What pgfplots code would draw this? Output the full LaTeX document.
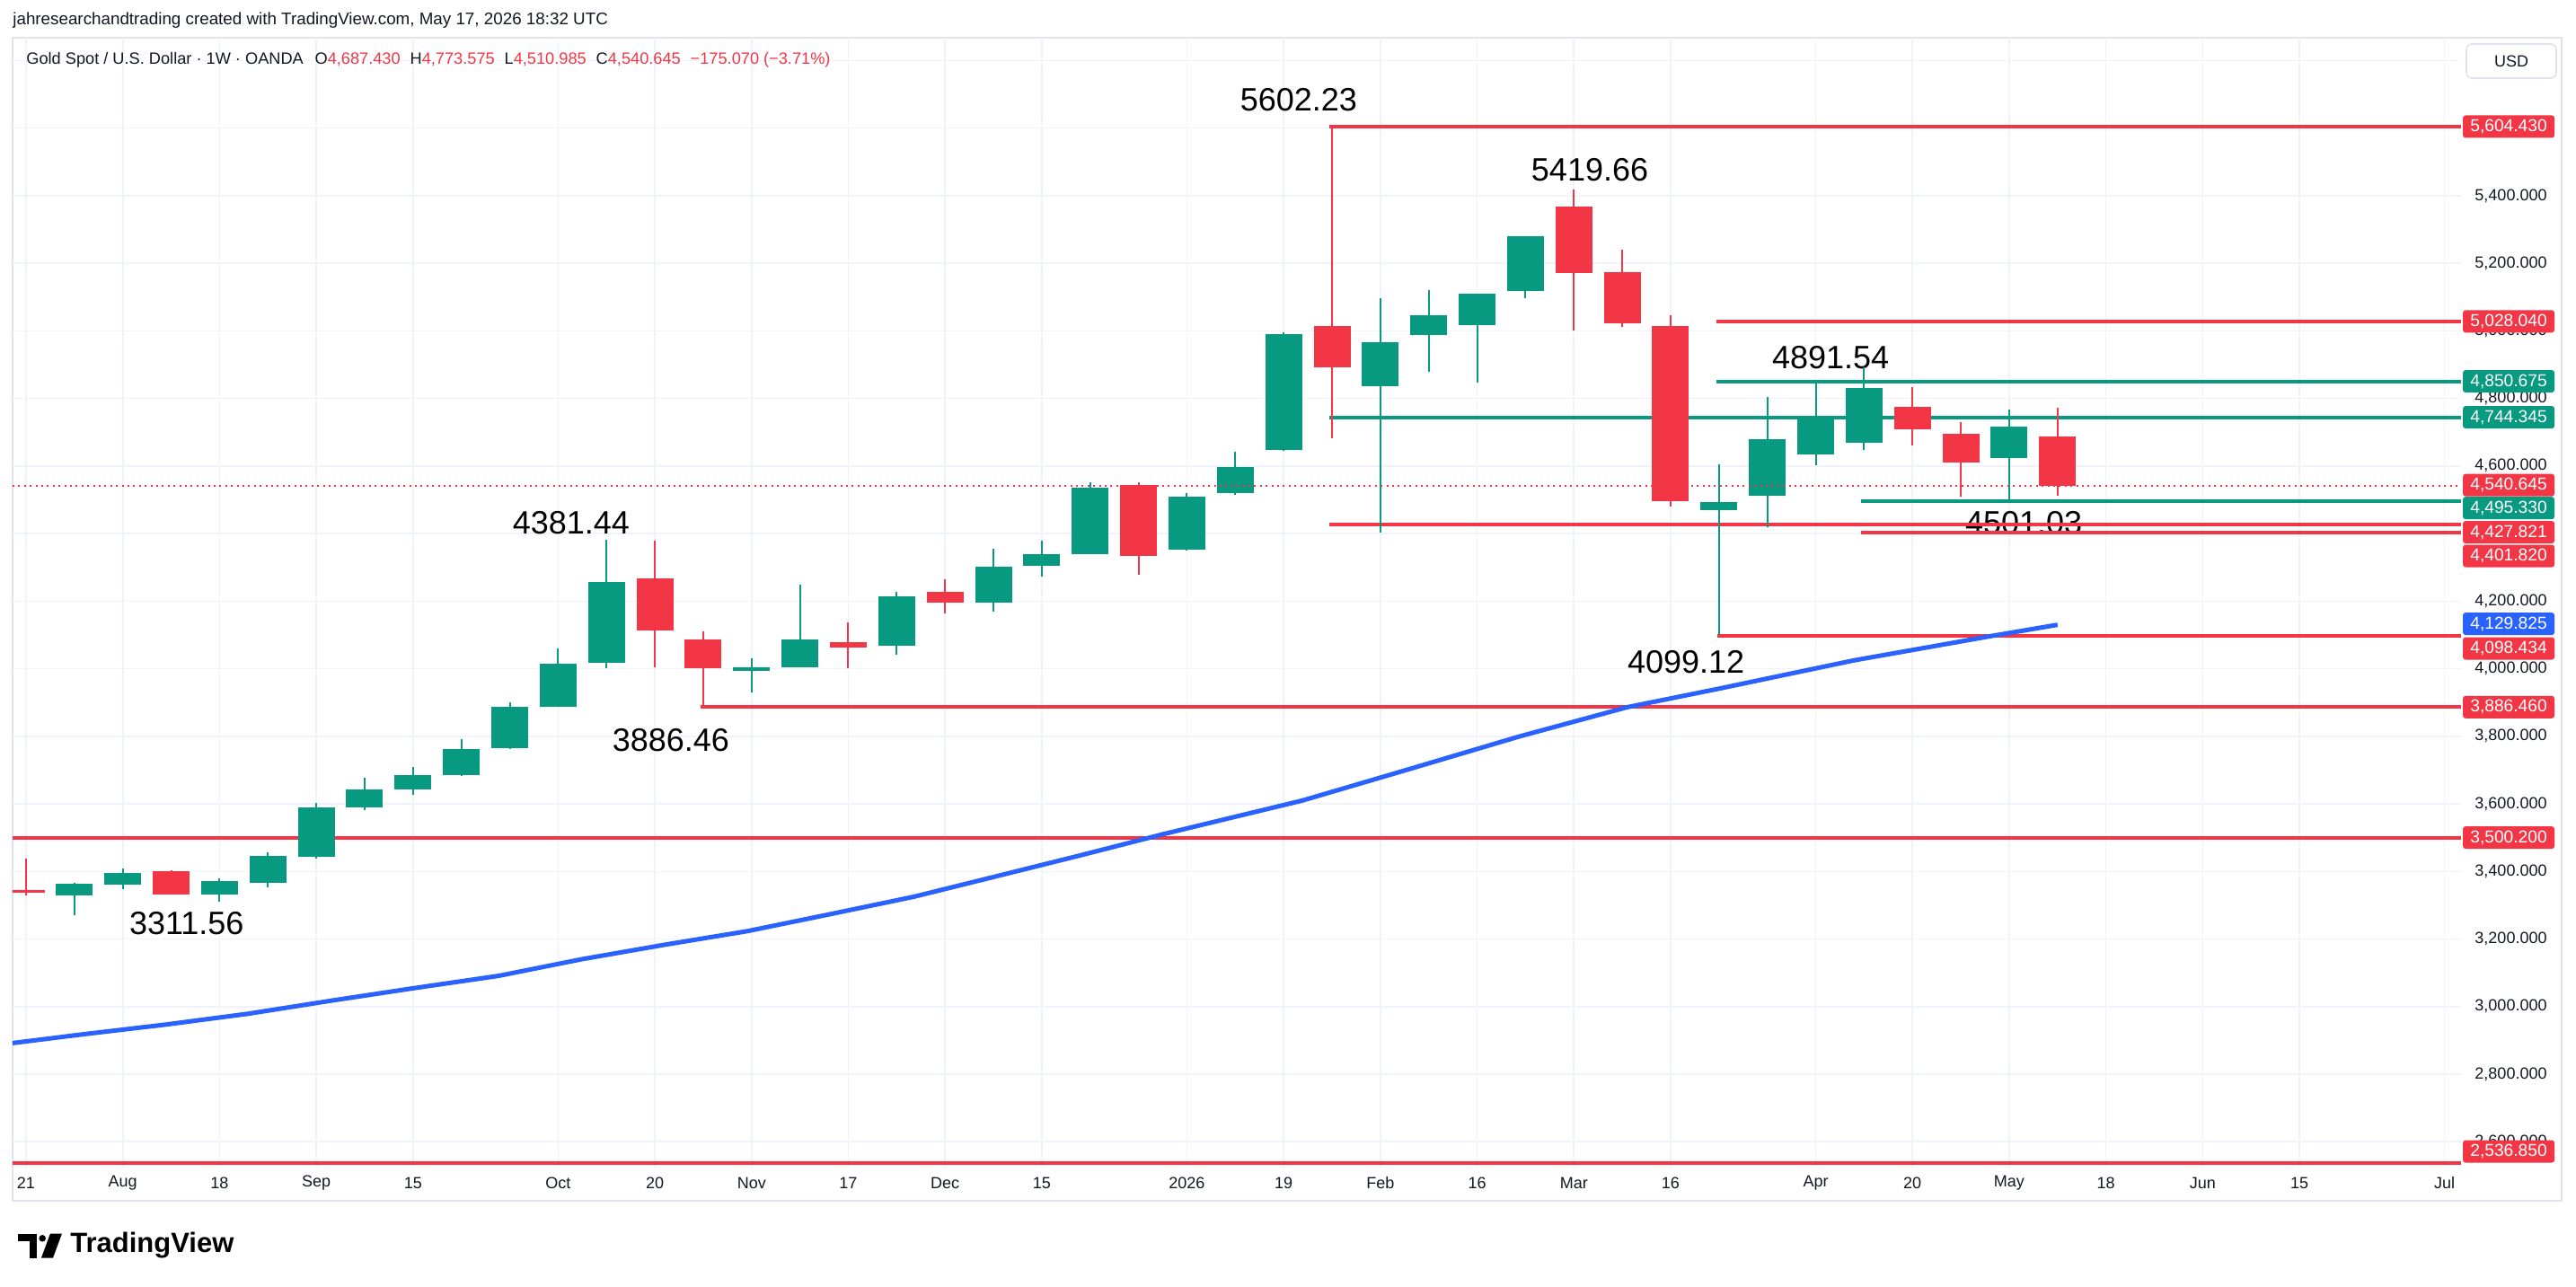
\documentclass[border=0pt]{standalone}
\usepackage{fontspec}
\setmainfont{Liberation Sans}
\usepackage{pgfplots}
\pgfplotsset{compat=1.18}
\usepackage{pgfplotstable}
\definecolor{tvgreen}{HTML}{089981}
\definecolor{tvred}{HTML}{F23645}
\definecolor{tvblue}{HTML}{2962FF}
\definecolor{tvgrid}{HTML}{F0F3FA}
\definecolor{tvtext}{HTML}{131722}
\definecolor{tvborder}{HTML}{E0E3EB}
\tikzset{
  annot/.style={font=\fontsize{18}{20}\selectfont, text=black, inner sep=0pt, anchor=center},
  pbox/.style={text=white, font=\fontsize{9.6}{10}\selectfont, minimum width=51pt, minimum height=12.5pt, inner sep=0pt, rounded corners=1.5pt},
}

\pgfplotstableread{
x o h l c
1 3329 3366 3270 3364
2 3361 3410 3348 3396
4 3333 3380 3311.56 3372
5 3365 3456 3354 3447
6 3443 3602 3439 3589
7 3589 3676 3581 3642
8 3643 3708 3627 3684
9 3684 3791 3682 3762
10 3764 3900 3762 3886
11 3888 4061 3886 4016
12 4017 4381.44 4001 4256
15 3993 4032 3930 4003
16 4005 4249 4003 4086
18 4067 4227 4041 4214
20 4196 4356 4170 4302
21 4305 4378 4274 4338
22 4340 4551 4338 4535
24 4352 4519 4350 4510
25 4520 4643 4515 4597
26 4647 4995 4645 4991
28 4836 5096 4402 4966
29 4988 5120 4879 5045
30 5016 5111 4846 5111
31 5117 5281 5096 5281
35 4470 4605 4099.12 4493
36 4511 4805 4419 4679
37 4635 4849 4602 4745
38 4669 4891.54 4647 4832
41 4624 4767 4501.03 4717
}\greencandles

\pgfplotstableread{
x o h l c
0 3346 3438 3328 3337
3 3401 3403 3331 3333
13 4268 4380 4003 4112
14 4086 4111 3886.46 4001
17 4078 4136 4001 4063
19 4227 4265 4165 4196
23 4544 4551 4278 4333
27 5015 5602.23 4681 4893
32 5368 5419.66 5001 5171
33 5173 5240 5011 5022
34 5015 5045 4480 4495
39 4776 4833 4661 4709
40 4696 4730 4510 4610
42 4687.43 4773.575 4510.985 4540.645
}\redcandles

\begin{document}
\begin{tikzpicture}
\useasboundingbox (0,0) rectangle (1434pt,716pt);
\fill[white] (0,0) rectangle (1434pt,716pt);
\draw[tvborder, line width=1pt] (7pt,47.5pt) rectangle (1426pt,695pt);
\begin{axis}[
  at={(7pt,66pt)}, anchor=south west,
  scale only axis, width=1363pt, height=629pt,
  xmin=-0.2786, xmax=50.343, ymin=2523.6, ymax=5867.6,
  clip mode=individual,
  axis line style={draw=none},
  major tick length=0pt,
  grid=major, major grid style={tvgrid, line width=0.8pt},
  xtick={0,2,4,6,8,11,13,15,17,19,21,24,26,28,30,32,34,37,39,41,43,45,47,50},
  xticklabels={21,Aug,18,Sep,15,Oct,20,Nov,17,Dec,15,2026,19,Feb,16,Mar,16,Apr,20,May,18,Jun,15,Jul},
  ytick={2600,2800,3000,3200,3400,3600,3800,4000,4200,4400,4600,4800,5000,5200,5400,5600,5800},
  yticklabels={{2,600.000},{2,800.000},{3,000.000},{3,200.000},{3,400.000},{3,600.000},{3,800.000},{4,000.000},{4,200.000},{},{4,600.000},{4,800.000},{5,000.000},{5,200.000},{5,400.000},{},{}},
  yticklabel pos=right,
  xticklabel style={font=\fontsize{9}{10}\selectfont, text=tvtext, anchor=center, inner sep=0pt, yshift=-8.5pt},
  yticklabel style={font=\fontsize{9}{10}\selectfont, text=tvtext, anchor=west, inner sep=0pt, xshift=7.5pt},
]
% annotations (behind lines)
\node[annot] at (axis cs:26.31,5684.2) {5602.23};
\node[annot] at (axis cs:32.33,5476.8) {5419.66};
\node[annot] at (axis cs:37.31,4919.9) {4891.54};
\node[annot] at (axis cs:41.30,4432.2) {4501.03};
\node[annot] at (axis cs:11.27,4432.2) {4381.44};
\node[annot] at (axis cs:34.32,4020.2) {4099.12};
\node[annot] at (axis cs:13.33,3788.9) {3886.46};
\node[annot] at (axis cs:3.32,3245.3) {3311.56};

% horizontal rays
\addplot[tvred, line width=2pt] coordinates {(26.94,5604.43) (50.343,5604.43)};
\addplot[tvgreen, line width=2pt] coordinates {(26.94,4744.345) (50.343,4744.345)};
\addplot[tvred, line width=2pt] coordinates {(26.94,4427.821) (50.343,4427.821)};
\addplot[tvred, line width=2pt] coordinates {(34.95,5028.04) (50.343,5028.04)};
\addplot[tvgreen, line width=2pt] coordinates {(34.95,4850.675) (50.343,4850.675)};
\addplot[tvred, line width=2pt] coordinates {(34.97,4098.434) (50.343,4098.434)};
\addplot[tvgreen, line width=2pt] coordinates {(37.94,4495.33) (50.343,4495.33)};
\addplot[tvred, line width=2pt] coordinates {(37.94,4401.82) (50.343,4401.82)};
\addplot[tvred, line width=2pt] coordinates {(13.94,3886.46) (50.343,3886.46)};
\addplot[tvred, line width=2pt] coordinates {(-0.2786,3500.2) (50.343,3500.2)};
\addplot[tvred, line width=2pt] coordinates {(-0.2786,2536.85) (50.343,2536.85)};

% moving average
\addplot[tvblue, line width=2.5pt, line join=round] coordinates {
(-0.2786,2892) (1.18,2918) (2.9,2947) (4.6,2979) (6.33,3018) (8.04,3055) (9.77,3091)
(11.48,3140) (13.2,3183) (14.9,3223) (16.64,3274) (18.35,3325) (20.07,3386) (21.78,3447)
(23.5,3510) (26.39,3610) (28.6,3703) (30.86,3799) (33.1,3886) (35.0,3941) (37.8,4025)
(40.6,4096) (42,4130)};

% wicks
\addplot[draw=none, mark=none, error bars/.cd, y dir=plus, y explicit, error mark=none,
  error bar style={line width=1pt, draw=tvgreen}]
  table[x=x, y=l, y error expr=\thisrow{h}-\thisrow{l}] {\greencandles};
\addplot[draw=none, mark=none, error bars/.cd, y dir=plus, y explicit, error mark=none,
  error bar style={line width=1pt, draw=tvred}]
  table[x=x, y=l, y error expr=\thisrow{h}-\thisrow{l}] {\redcandles};
% bodies
\addplot[draw=none, mark=none, error bars/.cd, y dir=both, y explicit, error mark=none,
  error bar style={line width=20.5pt, draw=tvgreen}]
  table[x=x, y expr=(\thisrow{o}+\thisrow{c})/2, y error expr=abs(\thisrow{c}-\thisrow{o})/2] {\greencandles};
\addplot[draw=none, mark=none, error bars/.cd, y dir=both, y explicit, error mark=none,
  error bar style={line width=20.5pt, draw=tvred}]
  table[x=x, y expr=(\thisrow{o}+\thisrow{c})/2, y error expr=abs(\thisrow{c}-\thisrow{o})/2] {\redcandles};

% last price dotted line
\addplot[tvred, line width=0.8pt, dash pattern=on 1pt off 2.2pt] coordinates {(-0.2786,4540.645) (50.343,4540.645)};

% price axis boxes
\node[pbox, fill=tvred] at (axis cs:51.327,5604.43) {5,604.430};
\node[pbox, fill=tvred] at (axis cs:51.327,5028.04) {5,028.040};
\node[pbox, fill=tvgreen] at (axis cs:51.327,4850.675) {4,850.675};
\node[pbox, fill=tvgreen] at (axis cs:51.327,4744.345) {4,744.345};
\node[pbox, fill=tvred] at (axis cs:51.327,4543.3) {4,540.645};
\node[pbox, fill=tvgreen] at (axis cs:51.327,4475.5) {4,495.330};
\node[pbox, fill=tvred] at (axis cs:51.327,4404.0) {4,427.821};
\node[pbox, fill=tvred] at (axis cs:51.327,4333.8) {4,401.820};
\node[pbox, fill=tvblue] at (axis cs:51.327,4132.8) {4,129.825};
\node[pbox, fill=tvred] at (axis cs:51.327,4060.0) {4,098.434};
\node[pbox, fill=tvred] at (axis cs:51.327,3886.46) {3,886.460};
\node[pbox, fill=tvred] at (axis cs:51.327,3500.2) {3,500.200};
\node[pbox, fill=tvred] at (axis cs:51.327,2571.4) {2,536.850};
\end{axis}

% USD box
\draw[tvborder, fill=white, line width=0.8pt, rounded corners=3pt] (1373pt,672.5pt) rectangle (1423pt,691.5pt);
\node[font=\fontsize{9}{10}\selectfont, text=tvtext] at (1398pt,682pt) {USD};

% header texts
\node[anchor=west, inner sep=0pt, font=\fontsize{9.4}{11}\selectfont, text=tvtext] at (7pt,704.5pt)
  {jahresearchandtrading created with TradingView.com, May 17, 2026 18:32 UTC};
\node[anchor=west, inner sep=0pt, font=\fontsize{9.1}{11}\selectfont, text=tvtext] at (14.5pt,682.5pt)
  {Gold Spot / U.S. Dollar · 1W · OANDA\hspace{0.7em}O\textcolor{tvred}{4,687.430}\hspace{0.6em}H\textcolor{tvred}{4,773.575}\hspace{0.6em}L\textcolor{tvred}{4,510.985}\hspace{0.6em}C\textcolor{tvred}{4,540.645}\hspace{0.6em}\textcolor{tvred}{−175.070 (−3.71\%)}};

% TradingView logo
\fill[black] (10pt,29.25pt) rectangle (20.5pt,25.2pt);
\fill[black] (16.5pt,25.2pt) rectangle (20.5pt,15.75pt);
\fill[black] (23.6pt,26.6pt) circle (1.9pt);
\fill[black] (28pt,29.25pt) -- (34.5pt,29.25pt) -- (29.5pt,15.75pt) -- (23pt,15.75pt) -- cycle;
\node[anchor=west, inner sep=0pt, font=\fontsize{15.5}{17}\selectfont\bfseries, text=black] at (39pt,22.5pt) {TradingView};
\end{tikzpicture}
\end{document}
